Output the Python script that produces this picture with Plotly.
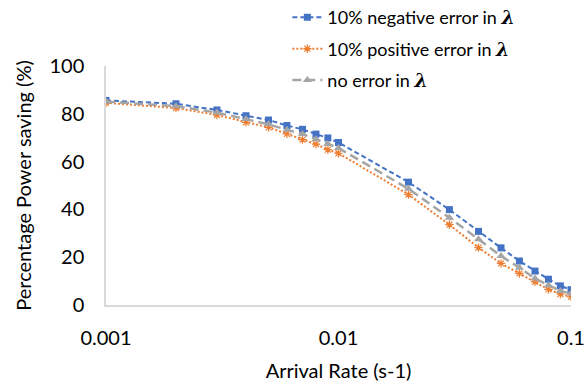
import plotly.graph_objects as go

# Arrival rates (s^-1)
arrival_rate = [0.001, 0.002, 0.003, 0.004, 0.005, 0.006, 0.007, 0.008, 0.009, 0.01,
                0.02, 0.03, 0.04, 0.05, 0.06, 0.07, 0.08, 0.09, 0.1]

# Percentage power saving for each estimation case
saving_neg_err = [85.6, 84.2, 81.6, 79.2, 77.4, 75.1, 73.5, 71.5, 69.9, 68.0,
                  51.4, 39.9, 30.8, 23.9, 18.4, 14.2, 10.8, 8.0, 6.4]
saving_pos_err = [84.6, 82.4, 79.5, 76.4, 74.3, 71.6, 69.2, 67.3, 65.0, 63.5,
                  46.2, 33.6, 24.0, 17.4, 13.2, 9.7, 6.5, 4.6, 3.4]
saving_no_err = [85.1, 83.2, 80.5, 77.8, 75.6, 73.3, 71.5, 69.4, 67.4, 65.7,
                 48.6, 36.5, 27.5, 20.5, 15.6, 11.1, 8.3, 5.9, 4.8]

x_tickvals = [0.001, 0.01, 0.1]
x_ticktext = ["0.001", "0.01", "0.1"]
y_tickvals = [0, 20, 40, 60, 80, 100]

LAM = '<span style="font-family:DejaVu Serif;font-size:19px"><b><i>λ</i></b></span>'
FONT = "Lato, Carlito, Calibri, sans-serif"

fig = go.Figure()
fig.add_trace(go.Scatter(
    x=arrival_rate, y=saving_neg_err, mode="lines+markers",
    name="10% negative error in " + LAM, legendgroup="a",
    line=dict(color="#4472C4", width=2, dash="5px,3px"),
    marker=dict(symbol="square", size=7, color="#4472C4"),
))
fig.add_trace(go.Scatter(
    x=arrival_rate, y=saving_pos_err, mode="lines+markers",
    name="10% positive error in " + LAM, legendgroup="b",
    line=dict(color="#ED7D31", width=2, dash="2px,2px"),
    marker=dict(symbol="asterisk-open", size=7, color="#ED7D31",
                line=dict(color="#ED7D31", width=1.2)),
))
fig.add_trace(go.Scatter(
    x=arrival_rate, y=saving_no_err, mode="lines+markers",
    name="no error in " + LAM, legendgroup="c",
    line=dict(color="#A5A5A5", width=2.5, dash="9px,5px"),
    marker=dict(symbol="triangle-up", size=8, color="#A5A5A5"),
))

fig.update_layout(
    width=587, height=383,
    margin=dict(l=106, r=16, t=66, b=78, autoexpand=False),
    paper_bgcolor="white", plot_bgcolor="white",
    font=dict(family=FONT, size=20, color="#000000"),
    legend=dict(
        x=0.39, y=1.28, xanchor="left", yanchor="top",
        font=dict(family=FONT, size=18, color="#000000"),
        tracegroupgap=5, traceorder="grouped",
        bgcolor="rgba(255,255,255,0)",
    ),
    xaxis=dict(
        type="log", range=[-3, -1],
        tickvals=x_tickvals, ticktext=x_ticktext,
        showgrid=False, zeroline=False,
        showline=True, linecolor="#D9D9D9", linewidth=1.5,
        ticks="", ticklabelstandoff=14, tickfont=dict(size=20),
        title=dict(text="Arrival Rate (s-1)", font=dict(size=20), standoff=16),
    ),
    yaxis=dict(
        range=[0, 100], tickvals=y_tickvals,
        showgrid=False, zeroline=False,
        showline=True, linecolor="#D9D9D9", linewidth=1.5,
        ticks="", ticklabelstandoff=16, tickfont=dict(size=20),
        title=dict(text="Percentage Power saving (%)", font=dict(size=20), standoff=12),
    ),
)

fig.write_html("out.html")
